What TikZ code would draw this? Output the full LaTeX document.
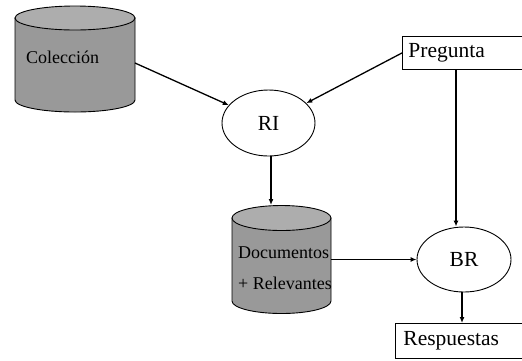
\documentclass[tikz,border=0pt]{standalone}
\usepackage{fontspec}
\setmainfont{Liberation Serif}
\usetikzlibrary{shapes.geometric,arrows.meta,calc}
\definecolor{cylbody}{gray}{0.60}
\definecolor{cyltop}{gray}{0.68}
\begin{document}
\begin{tikzpicture}[x=1pt,y=-1pt,
  big/.style={font=\fontsize{21.5}{24}\selectfont},
  small/.style={font=\fontsize{18}{21}\selectfont},
  oval/.style={draw,line width=0.9pt,ellipse,inner sep=0pt,big},
  box/.style={draw,line width=0.9pt,rectangle,inner sep=0pt,big,anchor=north west},
  conn/.style={line width=1.3pt,-{Latex[length=6pt,width=5pt]}},
  cylline/.style={draw=black,line width=0.9pt}
]
\useasboundingbox (0,0) rectangle (522,360);
% Coleccion cylinder
\path[fill=cylbody,cylline] (15,18) -- (15,100) arc[start angle=180,end angle=360,x radius=60,y radius=-12] -- (135,18) -- cycle;
\draw[fill=cyltop,line width=0.9pt] (75,18) ellipse[x radius=60,y radius=12];
\node[small,anchor=base west,inner sep=0pt] (col) at (26,63) {Colección};
\coordinate (col-e) at (135,63);
% Documentos cylinder
\path[fill=cylbody,cylline] (232,218) -- (232,301) arc[start angle=180,end angle=360,x radius=49.5,y radius=-12.5] -- (331,218) -- cycle;
\draw[fill=cyltop,line width=0.9pt] (281.5,218) ellipse[x radius=49.5,y radius=12.5];
\node[small,anchor=base west,inner sep=0pt] (doc1) at (238,258) {Documentos};
\node[small,anchor=base west,inner sep=0pt] (doc2) at (238,289) {+ Relevantes};
\coordinate (doc-top) at (271,205);
\coordinate (doc-e) at (331,259.5);
% ellipses
\node[oval,minimum width=93pt,minimum height=66pt] (RI) at (268.5,123) {RI};
\node[oval,minimum width=94pt,minimum height=65pt] (BR) at (464,259.5) {BR};
% boxes
\node[box,minimum width=115pt,minimum height=33pt,text width=109pt,inner xsep=6pt,align=left] (preg) at (402,36) {Pregunta};
\node[box,minimum width=125pt,minimum height=35pt,text width=117pt,inner xsep=8pt,align=left] (resp) at (395,323) {Respuestas};
\coordinate (preg-s) at (456,69);
% connectors
\draw[conn] (col-e) -- (RI);
\draw[conn] (preg.west) -- (RI);
\draw[conn] (preg-s) -- (preg-s |- BR.north);
\draw[conn] (RI.south -| doc-top) -- (doc-top);
\draw[conn] (doc-e) -- (BR.west);
\draw[conn] (BR.south -| 462,0) -- (resp.north -| 462,0);
\end{tikzpicture}
\end{document}
